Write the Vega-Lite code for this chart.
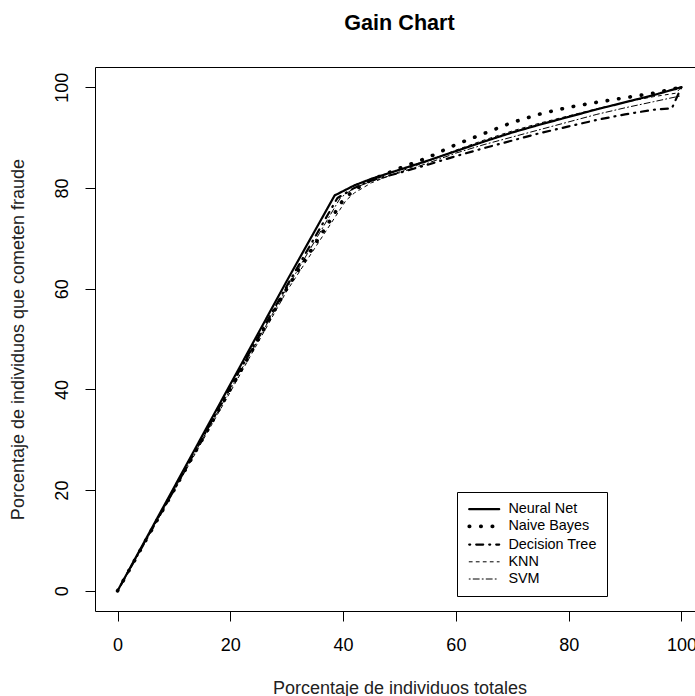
{
  "$schema": "https://vega.github.io/schema/vega-lite/v6.json",
  "autosize": "none",
  "width": 609,
  "height": 544,
  "padding": {"left": 95, "top": 67, "right": 0, "bottom": 85},
  "background": "white",
  "title": {"text": "Gain Chart", "font": "Liberation Sans", "fontSize": 21.6, "fontWeight": "bold", "color": "black", "anchor": "middle", "frame": "group", "baseline": "alphabetic", "offset": 15},
  "config": {
    "view": {"stroke": "black", "strokeWidth": 1},
    "axis": {"domain": false, "grid": false, "ticks": true, "tickSize": 10, "tickColor": "black", "labelFont": "Liberation Sans", "labelFontSize": 18, "labelColor": "black", "titleFont": "Liberation Sans", "titleFontSize": 18, "titleFontWeight": "normal", "titleColor": "#222"}
  },
  "data": {"values": [
    {"model": "Neural Net", "x": 0, "y": 0},
    {"model": "Neural Net", "x": 10, "y": 20.5},
    {"model": "Neural Net", "x": 20, "y": 41},
    {"model": "Neural Net", "x": 30, "y": 61.5},
    {"model": "Neural Net", "x": 38.5, "y": 78.5},
    {"model": "Neural Net", "x": 42, "y": 80.5},
    {"model": "Neural Net", "x": 45, "y": 81.8},
    {"model": "Neural Net", "x": 50, "y": 83.6},
    {"model": "Neural Net", "x": 55, "y": 85.4},
    {"model": "Neural Net", "x": 60, "y": 87.3},
    {"model": "Neural Net", "x": 65, "y": 89.2},
    {"model": "Neural Net", "x": 70, "y": 91},
    {"model": "Neural Net", "x": 75, "y": 92.6},
    {"model": "Neural Net", "x": 80, "y": 94.1},
    {"model": "Neural Net", "x": 85, "y": 95.6},
    {"model": "Neural Net", "x": 90, "y": 97},
    {"model": "Neural Net", "x": 95, "y": 98.4},
    {"model": "Neural Net", "x": 100, "y": 100},
    {"model": "Naive Bayes", "x": 0, "y": 0},
    {"model": "Naive Bayes", "x": 10, "y": 20},
    {"model": "Naive Bayes", "x": 20, "y": 40},
    {"model": "Naive Bayes", "x": 30, "y": 60},
    {"model": "Naive Bayes", "x": 40, "y": 77.6},
    {"model": "Naive Bayes", "x": 42, "y": 79.6},
    {"model": "Naive Bayes", "x": 45, "y": 81.6},
    {"model": "Naive Bayes", "x": 50, "y": 83.9},
    {"model": "Naive Bayes", "x": 55, "y": 86},
    {"model": "Naive Bayes", "x": 60, "y": 88.6},
    {"model": "Naive Bayes", "x": 65, "y": 90.8},
    {"model": "Naive Bayes", "x": 70, "y": 93},
    {"model": "Naive Bayes", "x": 75, "y": 94.7},
    {"model": "Naive Bayes", "x": 80, "y": 96},
    {"model": "Naive Bayes", "x": 85, "y": 97},
    {"model": "Naive Bayes", "x": 90, "y": 97.9},
    {"model": "Naive Bayes", "x": 95, "y": 98.8},
    {"model": "Naive Bayes", "x": 100, "y": 100},
    {"model": "Decision Tree", "x": 0, "y": 0},
    {"model": "Decision Tree", "x": 10, "y": 20},
    {"model": "Decision Tree", "x": 20, "y": 40.5},
    {"model": "Decision Tree", "x": 30, "y": 60.5},
    {"model": "Decision Tree", "x": 39, "y": 78},
    {"model": "Decision Tree", "x": 42, "y": 80},
    {"model": "Decision Tree", "x": 45, "y": 81.5},
    {"model": "Decision Tree", "x": 50, "y": 83},
    {"model": "Decision Tree", "x": 55, "y": 84.6},
    {"model": "Decision Tree", "x": 60, "y": 86.3},
    {"model": "Decision Tree", "x": 65, "y": 87.9},
    {"model": "Decision Tree", "x": 70, "y": 89.4},
    {"model": "Decision Tree", "x": 75, "y": 90.9},
    {"model": "Decision Tree", "x": 80, "y": 92.2},
    {"model": "Decision Tree", "x": 85, "y": 93.5},
    {"model": "Decision Tree", "x": 90, "y": 94.6},
    {"model": "Decision Tree", "x": 95, "y": 95.5},
    {"model": "Decision Tree", "x": 98.3, "y": 95.8},
    {"model": "Decision Tree", "x": 100, "y": 100},
    {"model": "KNN", "x": 0, "y": 0},
    {"model": "KNN", "x": 10, "y": 19.8},
    {"model": "KNN", "x": 20, "y": 39.5},
    {"model": "KNN", "x": 30, "y": 59.5},
    {"model": "KNN", "x": 40.5, "y": 77.5},
    {"model": "KNN", "x": 42, "y": 79},
    {"model": "KNN", "x": 45, "y": 81},
    {"model": "KNN", "x": 50, "y": 83.2},
    {"model": "KNN", "x": 55, "y": 85.3},
    {"model": "KNN", "x": 60, "y": 87.5},
    {"model": "KNN", "x": 65, "y": 89.5},
    {"model": "KNN", "x": 70, "y": 91.3},
    {"model": "KNN", "x": 75, "y": 92.9},
    {"model": "KNN", "x": 80, "y": 94.3},
    {"model": "KNN", "x": 85, "y": 95.7},
    {"model": "KNN", "x": 90, "y": 97},
    {"model": "KNN", "x": 95, "y": 98.1},
    {"model": "KNN", "x": 99, "y": 98.8},
    {"model": "KNN", "x": 100, "y": 100},
    {"model": "SVM", "x": 0, "y": 0},
    {"model": "SVM", "x": 10, "y": 20},
    {"model": "SVM", "x": 20, "y": 40},
    {"model": "SVM", "x": 30, "y": 60},
    {"model": "SVM", "x": 39.5, "y": 78},
    {"model": "SVM", "x": 42, "y": 80},
    {"model": "SVM", "x": 45, "y": 81.3},
    {"model": "SVM", "x": 50, "y": 83},
    {"model": "SVM", "x": 55, "y": 84.9},
    {"model": "SVM", "x": 60, "y": 86.9},
    {"model": "SVM", "x": 65, "y": 88.6},
    {"model": "SVM", "x": 70, "y": 90.1},
    {"model": "SVM", "x": 75, "y": 91.6},
    {"model": "SVM", "x": 80, "y": 93.1},
    {"model": "SVM", "x": 85, "y": 94.6},
    {"model": "SVM", "x": 90, "y": 95.9},
    {"model": "SVM", "x": 95, "y": 97.1},
    {"model": "SVM", "x": 100, "y": 98.3}
  ]},
  "mark": {"type": "line", "color": "black", "strokeCap": "round", "strokeJoin": "round"},
  "encoding": {
    "x": {"field": "x", "type": "quantitative", "scale": {"domain": [-4, 104], "nice": false, "zero": false},
      "axis": {"values": [0, 20, 40, 60, 80, 100], "labelPadding": 15, "title": "Porcentaje de individuos totales", "titleY": 77, "titleBaseline": "middle", "titleX": 304.5, "titleAnchor": "middle"}},
    "y": {"field": "y", "type": "quantitative", "scale": {"domain": [-4, 104], "nice": false, "zero": false},
      "axis": {"values": [0, 20, 40, 60, 80, 100], "labelAngle": -90, "labelAlign": "center", "labelBaseline": "bottom", "labelPadding": 14, "title": "Porcentaje de individuos que cometen fraude", "titleAngle": -90, "titleX": -77, "titleY": 272, "titleBaseline": "middle", "titleAlign": "center"}},
    "strokeDash": {"field": "model", "type": "nominal",
      "scale": {"domain": ["Neural Net", "Naive Bayes", "Decision Tree", "KNN", "SVM"], "range": [[1, 0], [0.5, 11], [1, 6, 7, 6], [3, 4], [1, 3, 6, 3]]},
      "legend": {"title": null, "orient": "none", "legendX": 362, "legendY": 425, "direction": "vertical", "strokeColor": "black", "fillColor": "white", "padding": 10, "symbolType": "M-1,0H5", "symbolSize": 100, "symbolStrokeColor": "black", "labelFont": "Liberation Sans", "labelFontSize": 14.4, "labelColor": "black", "labelOffset": 27, "rowPadding": 2.2, "cornerRadius": 0,
        "encode": {"symbols": {"update": {"strokeCap": {"value": "round"}}}}}},
    "strokeWidth": {"field": "model", "type": "nominal",
      "scale": {"type": "ordinal", "domain": ["Neural Net", "Naive Bayes", "Decision Tree", "KNN", "SVM"], "range": [2.2, 3.6, 2.2, 1, 1]},
      "legend": {"title": null, "orient": "none", "legendX": 362, "legendY": 425}}
  }
}
